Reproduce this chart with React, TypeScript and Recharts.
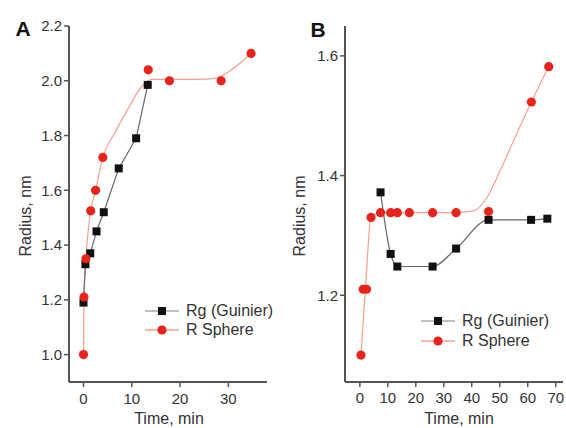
import { LineChart, Line, XAxis, YAxis } from 'recharts';

// Panel A — Rg (Guinier)
const timeA_rg = [0, 0.4, 1.4, 2.7, 4.2, 7.3, 10.9, 13.3];
const radiusA_rg = [1.19, 1.33, 1.37, 1.45, 1.52, 1.68, 1.79, 1.985];
// Panel A — R Sphere points
const timeA_rs = [0, 0.1, 0.5, 1.5, 2.5, 4.0, 13.4, 17.8, 28.5, 34.7];
const radiusA_rs = [1.0, 1.21, 1.35, 1.525, 1.6, 1.72, 2.04, 2.0, 2.0, 2.1];
// Panel A — R Sphere smooth curve
const timeA_fit = [0, 0.1, 0.5, 1.5, 2.5, 4.0, 6.5, 9.3, 12.1, 14.2, 23.3, 27.5, 30.3, 33.0, 34.7];
const radiusA_fit = [1.0, 1.21, 1.35, 1.525, 1.6, 1.72, 1.81, 1.9, 1.98, 2.005, 2.005, 2.01, 2.036, 2.073, 2.1];

// Panel B — Rg (Guinier)
const timeB_rg = [7.4, 11, 13.4, 26, 34.4, 46, 61.2, 67];
const radiusB_rg = [1.372, 1.269, 1.248, 1.248, 1.278, 1.326, 1.326, 1.328];
// Panel B — R Sphere points
const timeB_rs = [0.4, 1.2, 2.4, 4.0, 7.4, 11, 13.4, 17.7, 26, 34.4, 46, 61.3, 67.5];
const radiusB_rs = [1.1, 1.21, 1.21, 1.33, 1.338, 1.338, 1.338, 1.338, 1.338, 1.338, 1.34, 1.523, 1.582];
// Panel B — R Sphere smooth curve
const timeB_fit = [0.4, 2.0, 4.0, 7.4, 34.4, 40.6, 45.4, 50.1, 54.9, 61.3, 67.5];
const radiusB_fit = [1.1, 1.21, 1.33, 1.338, 1.338, 1.341, 1.363, 1.408, 1.458, 1.523, 1.582];

const ticksA_x = [0, 10, 20, 30];
const ticksA_y = [1.0, 1.2, 1.4, 1.6, 1.8, 2.0, 2.2];
const ticksB_x = [0, 10, 20, 30, 40, 50, 60, 70];
const ticksB_y = [1.2, 1.4, 1.6];

const toRows = (t: number[], r: number[]) => t.map((v, i) => ({ t: v, r: r[i] }));

const FONT = '"Liberation Sans", Arial, sans-serif';
const RED = '#e8231c';
const CURVE = '#f5a08e';
const TEXT = '#333';
const AXIS = '#555';

const Square = (p: any) => (
  <rect key={`sq-${p.index}`} x={p.cx - 4} y={p.cy - 4} width={8} height={8} fill="#111" />
);
const Circle = (p: any) => (
  <circle key={`ci-${p.index}`} cx={p.cx} cy={p.cy} r={4.6} fill={RED} />
);

const tick = { fontSize: 15, fill: TEXT, fontFamily: FONT };
const axisLine = { stroke: AXIS, strokeWidth: 2 };
const tickLine = { stroke: AXIS, strokeWidth: 1.5 };

function LegendRow({ x, y, label, square }: { x: number; y: number; label: string; square: boolean }) {
  return (
    <div style={{ position: 'absolute', left: x, top: y - 10, height: 20, display: 'flex', alignItems: 'center', whiteSpace: 'nowrap' }}>
      <svg width={38} height={14}>
        <line x1={0} x2={34} y1={7} y2={7} stroke={square ? '#aaa' : CURVE} strokeWidth={1.5} />
        {square ? <rect x={13} y={3} width={8} height={8} fill="#111" /> : <circle cx={17} cy={7} r={4.6} fill={RED} />}
      </svg>
      <span style={{ fontFamily: FONT, fontSize: 16, color: TEXT, marginLeft: 3 }}>{label}</span>
    </div>
  );
}

function Text({ x, y, children, rotate, size = 16, bold }: any) {
  return (
    <div
      style={{
        position: 'absolute',
        left: x,
        top: y,
        transform: `translate(-50%, -50%)${rotate ? ' rotate(-90deg)' : ''}`,
        whiteSpace: 'nowrap',
        fontFamily: FONT,
        fontSize: size,
        fontWeight: bold ? 700 : 400,
        color: bold ? '#111' : TEXT,
      }}
    >
      {children}
    </div>
  );
}

export default function App() {
  return (
    <div style={{ position: 'absolute', left: 0, top: 0, width: 566, height: 428, background: '#fff', overflow: 'hidden' }}>
      <div style={{ position: 'absolute', left: 0, top: 0 }}>
        <LineChart width={283} height={428} margin={{ top: 26, right: 16, bottom: 0, left: 0 }}>
          <XAxis type="number" dataKey="t" domain={[-3, 38]} ticks={ticksA_x} allowDataOverflow
            height={46} tick={tick} axisLine={axisLine} tickLine={tickLine} tickSize={5} tickMargin={6} />
          <YAxis type="number" dataKey="r" domain={[0.9, 2.2]} ticks={ticksA_y} allowDataOverflow
            width={69} tick={tick} axisLine={axisLine} tickLine={tickLine} tickSize={5} tickMargin={2}
            tickFormatter={(v: number) => v.toFixed(1)} />
          <Line data={toRows(timeA_fit, radiusA_fit)} dataKey="r" type="monotone" stroke={CURVE} strokeWidth={1.2} dot={false} isAnimationActive={false} />
          <Line data={toRows(timeA_rg, radiusA_rg)} dataKey="r" type="linear" stroke="#666" strokeWidth={1.2} dot={Square} isAnimationActive={false} />
          <Line data={toRows(timeA_rs, radiusA_rs)} dataKey="r" stroke="none" dot={Circle} isAnimationActive={false} />
        </LineChart>
      </div>
      <div style={{ position: 'absolute', left: 283, top: 0 }}>
        <LineChart width={283} height={428} margin={{ top: 26, right: 3, bottom: 0, left: 0 }}>
          <XAxis type="number" dataKey="t" domain={[-5.3, 72.6]} ticks={ticksB_x} allowDataOverflow
            height={46} tick={tick} axisLine={axisLine} tickLine={tickLine} tickSize={5} tickMargin={5} />
          <YAxis type="number" dataKey="r" domain={[1.055, 1.65]} ticks={ticksB_y} allowDataOverflow
            width={62} tick={tick} axisLine={axisLine} tickLine={tickLine} tickSize={5} tickMargin={2}
            tickFormatter={(v: number) => v.toFixed(1)} />
          <Line data={toRows(timeB_fit, radiusB_fit)} dataKey="r" type="monotone" stroke={CURVE} strokeWidth={1.2} dot={false} isAnimationActive={false} />
          <Line data={toRows(timeB_rg, radiusB_rg)} dataKey="r" type="monotone" stroke="#666" strokeWidth={1.2} dot={Square} isAnimationActive={false} />
          <Line data={toRows(timeB_rs, radiusB_rs)} dataKey="r" stroke="none" dot={Circle} isAnimationActive={false} />
        </LineChart>
      </div>

      <Text x={23} y={29} size={21} bold>A</Text>
      <Text x={318} y={30} size={21} bold>B</Text>
      <Text x={26} y={216} rotate>Radius, nm</Text>
      <Text x={300} y={216} rotate>Radius, nm</Text>
      <Text x={169} y={419}>Time, min</Text>
      <Text x={459} y={419}>Time, min</Text>

      <LegendRow x={145} y={311} label="Rg (Guinier)" square />
      <LegendRow x={145} y={330} label="R Sphere" square={false} />
      <LegendRow x={421} y={321} label="Rg (Guinier)" square />
      <LegendRow x={421} y={341} label="R Sphere" square={false} />
    </div>
  );
}
